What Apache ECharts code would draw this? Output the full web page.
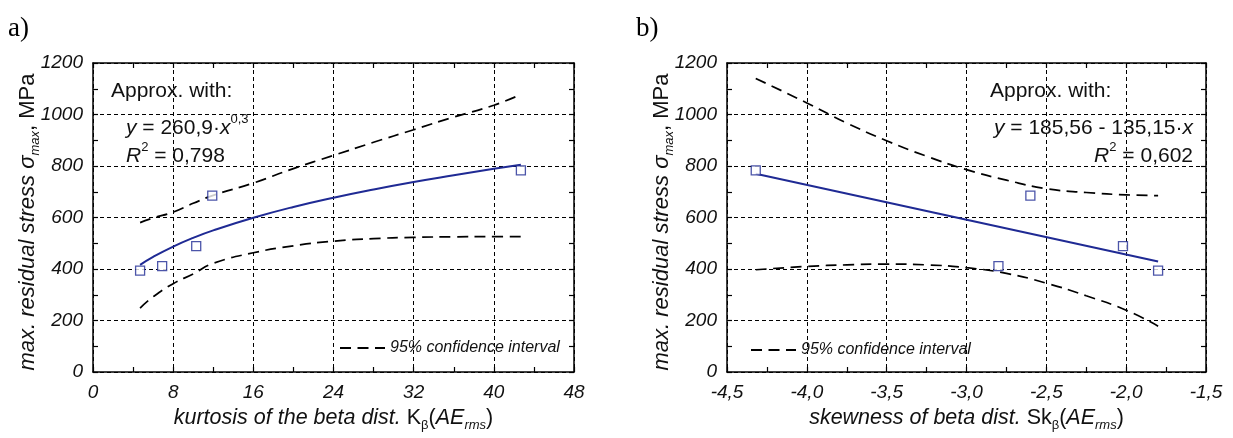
<!DOCTYPE html>
<html>
<head>
<meta charset="utf-8">
<script src="https://cdn.jsdelivr.net/npm/echarts@6/dist/echarts.min.js"></script>
<style>
  html, body { margin: 0; padding: 0; background: #fff; }
  #chart { width: 1233px; height: 438px; }
</style>
</head>
<body>
<div id="chart"></div>
<script>
// a) residual stress vs. kurtosis of the beta distribution
const kurtosisX = [4.7, 6.9, 10.3, 11.9, 42.7];
const kurtosisStress = [394, 411, 489, 685, 783];
const kurtCurveX = [4.7, 6, 8, 10, 12, 16, 20, 24, 28, 32, 36, 40, 42.7];
const kurtFitY = [416, 447, 487, 521, 550, 599, 641, 677, 709, 738, 764, 789, 805];
const kurtUpperY = [580, 598, 621, 655, 686, 734, 790, 841, 892, 941, 990, 1036, 1078];
const kurtLowerY = [248, 292, 343, 381, 422, 463, 490, 508, 518, 523, 525, 526, 526];

// b) residual stress vs. skewness of the beta distribution
const skewX = [-4.32, -2.8, -2.6, -2.02, -1.8];
const skewStress = [783, 411, 685, 489, 394];
const skewFitX = [-4.32, -1.8];
const skewFitY = [770, 429];
const skewCurveX = [-4.32, -4.0, -3.75, -3.5, -3.25, -3.0, -2.75, -2.5, -2.25, -2.0, -1.8];
const skewUpperY = [1140, 1045, 967, 898, 838, 786, 745, 712, 697, 688, 685];
const skewLowerY = [397, 410, 416, 419, 416, 405, 383, 345, 296, 240, 178];

// axis ticks
const kurtTicks = { min: 0, max: 48, interval: 8 };
const skewTicks = { min: -4.5, max: -1.5, interval: 0.5 };
const stressTicks = { min: 0, max: 1200, interval: 200 };

const CI_NAME = '95% confidence interval';
const FONT = '"Liberation Sans", Arial, Helvetica, sans-serif';
const NAVY = '#1f2a94';

const zip = (xs, ys) => xs.map((x, i) => [x, ys[i]]);

function frameAxis(extra) {
  return Object.assign({
    type: 'value',
    axisLine: { show: true, onZero: false, lineStyle: { color: '#000', width: 1.5 } },
    axisTick: { show: true, inside: true, length: 5, lineStyle: { color: '#000', width: 1.2 } },
    minorTick: { show: true, splitNumber: 2, length: 5, lineStyle: { color: '#000', width: 1.2 } },
    axisLabel: { show: false },
    splitLine: { show: false }
  }, extra);
}

const tickLabel = {
  show: true, fontFamily: FONT, fontStyle: 'italic', fontSize: 19, color: '#111'
};
const gridDash = { show: true, lineStyle: { color: '#000', width: 1, type: [4, 3] } };

const nameRich = {
  it: { fontFamily: FONT, fontStyle: 'italic', fontSize: 21.5, color: '#111', lineHeight: 28 },
  n: { fontFamily: FONT, fontSize: 21.5, color: '#111', lineHeight: 28 },
  sub: { fontFamily: FONT, fontSize: 13, color: '#111', verticalAlign: 'bottom', lineHeight: 14 },
  itsub: { fontFamily: FONT, fontStyle: 'italic', fontSize: 13, color: '#111', verticalAlign: 'bottom', lineHeight: 14 }
};
const yNameRich = Object.assign({}, nameRich, {
  it: Object.assign({}, nameRich.it, { fontSize: 22 }),
  n: Object.assign({}, nameRich.n, { fontSize: 22 })
});

const yTitle = '{it|max. residual stress σ}{itsub|max}{n|, MPa}';

function xBottom(gridIndex, ticks, name, fmt) {
  return frameAxis(Object.assign({
    gridIndex, position: 'bottom',
    axisLabel: Object.assign({ margin: 11, formatter: fmt }, tickLabel),
    splitLine: gridDash,
    name, nameLocation: 'middle', nameGap: 32, nameMoveOverlap: false,
    nameTextStyle: { rich: nameRich }
  }, ticks));
}
function xTop(gridIndex, ticks) {
  return frameAxis(Object.assign({ gridIndex, position: 'top' }, ticks));
}
function yLeft(gridIndex) {
  return frameAxis(Object.assign({
    gridIndex, position: 'left',
    axisLabel: Object.assign({ margin: 10, formatter: v => String(v) }, tickLabel),
    splitLine: gridDash,
    name: yTitle, nameLocation: 'middle', nameGap: 51, nameRotate: 90, nameMoveOverlap: false,
    nameTextStyle: { rich: yNameRich, padding: [0, 9, 0, 0] }
  }, stressTicks));
}
function yRight(gridIndex) {
  return frameAxis(Object.assign({ gridIndex, position: 'right' }, stressTicks));
}

const ciLine = { color: '#000', width: 1.7, type: [11, 6.5] };

function ciSeries(xi, yi, data) {
  return {
    name: CI_NAME, type: 'line', xAxisIndex: xi, yAxisIndex: yi,
    data, smooth: true, symbol: 'none', lineStyle: ciLine, itemStyle: { color: '#000' }, z: 3
  };
}
function fitSeries(xi, yi, data, smooth) {
  return {
    name: 'fit', type: 'line', xAxisIndex: xi, yAxisIndex: yi,
    data, smooth, symbol: 'none', lineStyle: { color: NAVY, width: 2 }, z: 4
  };
}
function pointSeries(xi, yi, data) {
  return {
    name: 'measured', type: 'scatter', xAxisIndex: xi, yAxisIndex: yi,
    data, symbol: 'rect', symbolSize: 9,
    itemStyle: { color: '#fff', borderColor: NAVY, borderWidth: 1.3 }, z: 5
  };
}

const textRich = {
  i: { fontFamily: FONT, fontStyle: 'italic', fontSize: 21, fill: '#111', lineHeight: 30 },
  sup: { fontFamily: FONT, fontSize: 13, fill: '#111', verticalAlign: 'top', lineHeight: 13 }
};
function label(x, y, text, align) {
  return {
    type: 'text', x, y, z: 10,
    style: {
      text, rich: textRich, fontFamily: FONT, fontSize: 21, fill: '#111',
      align: align || 'left', verticalAlign: 'middle', lineHeight: 30
    }
  };
}
function panel(x, text) {
  return {
    type: 'text', x, y: 29, z: 10,
    style: { text, fontFamily: '"Liberation Serif", "Times New Roman", serif', fontSize: 27, fill: '#000', verticalAlign: 'middle' }
  };
}

const comma1 = v => v.toFixed(1).replace('.', ',');

function legendAt(left, top) {
  return {
    left, top, itemWidth: 45, itemHeight: 14, itemGap: 5,
    data: [CI_NAME], selectedMode: false,
    itemStyle: { opacity: 0 },
    textStyle: { fontFamily: FONT, fontStyle: 'italic', fontSize: 16, color: '#111' }
  };
}

const option = {
  animation: false,
  backgroundColor: '#fff',
  grid: [
    { left: 93, right: 659, top: 63, bottom: 66 },
    { left: 727, right: 27, top: 63, bottom: 66 }
  ],
  xAxis: [
    xBottom(0, kurtTicks, '{it|kurtosis of the beta dist. }{n|K}{sub|β}{n|(}{it|AE}{itsub|rms}{n|)}'),
    xTop(0, kurtTicks),
    xBottom(1, skewTicks, '{it|skewness of beta dist. }{n|Sk}{sub|β}{n|(}{it|AE}{itsub|rms}{n|)}', comma1),
    xTop(1, skewTicks)
  ],
  yAxis: [yLeft(0), yRight(0), yLeft(1), yRight(1)],
  legend: [legendAt(334, 335), legendAt(745, 337)],
  series: [
    ciSeries(0, 0, zip(kurtCurveX, kurtUpperY)),
    ciSeries(0, 0, zip(kurtCurveX, kurtLowerY)),
    fitSeries(0, 0, zip(kurtCurveX, kurtFitY), true),
    pointSeries(0, 0, zip(kurtosisX, kurtosisStress)),
    ciSeries(2, 2, zip(skewCurveX, skewUpperY)),
    ciSeries(2, 2, zip(skewCurveX, skewLowerY)),
    fitSeries(2, 2, zip(skewFitX, skewFitY), false),
    pointSeries(2, 2, zip(skewX, skewStress))
  ],
  graphic: [
    panel(8, 'a)'),
    panel(636, 'b)'),
    label(111, 91, 'Approx. with:'),
    label(126, 128, '{i|y} = 260,9·{i|x}{sup|0,3}'),
    label(126, 156, '{i|R}{sup|2} = 0,798'),
    label(990, 91, 'Approx. with:'),
    label(1193, 128, '{i|y} = 185,56 - 135,15·{i|x}', 'right'),
    label(1193, 156, '{i|R}{sup|2} = 0,602', 'right')
  ]
};

echarts.init(document.getElementById('chart'), null, { renderer: 'canvas' }).setOption(option);
</script>
</body>
</html>
